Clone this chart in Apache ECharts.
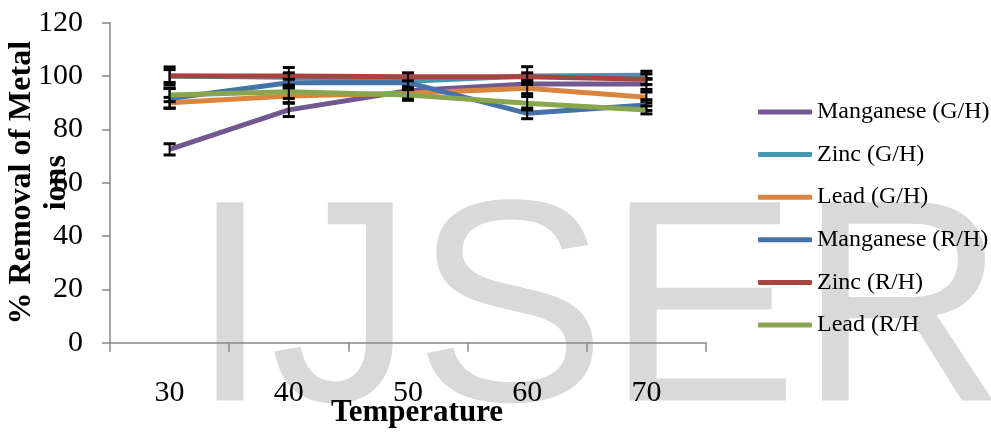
<!DOCTYPE html>
<html><head><meta charset="utf-8">
<script src="https://cdn.jsdelivr.net/npm/echarts@6/dist/echarts.min.js"></script>
<style>html,body{margin:0;padding:0;background:#fff}#c{width:991px;height:433px}</style>
</head><body><div id="c"></div>
<script>
const categories = ['30', '40', '50', '60', '70'];
const seriesNames = ['Manganese (G/H)', 'Zinc (G/H)', 'Lead (G/H)', 'Manganese (R/H)', 'Zinc (R/H)', 'Lead (R/H'];
const mnGH = [72.5, 87.3, 94.5, 97.0, 97.0];
const znGH = [100.0, 99.5, 98.0, 100.0, 100.3];
const pbGH = [90.0, 92.5, 93.5, 95.4, 92.0];
const mnRH = [91.6, 97.5, 97.5, 86.0, 89.1];
const znRH = [100.0, 100.0, 99.7, 99.7, 98.8];
const pbRH = [92.9, 94.1, 92.9, 89.8, 87.3];
const errMnGH = [2.1, 2.5, 2.0, 2.0, 2.0];
const errZnGH = [2.4, 3.7, 1.5, 3.5, 1.5];
const errPbGH = [2.0, 2.5, 2.0, 2.0, 2.0];
const errMnRH = [3.7, 1.5, 2.0, 2.0, 2.0];
const errZnRH = [3.4, 1.2, 1.5, 1.5, 2.0];
const errPbRH = [2.5, 2.5, 2.0, 2.5, 1.5];
const colors = ['#71588F', '#4198AF', '#DB843D', '#4572A7', '#A84440', '#89A54E'];

const values = [mnGH, znGH, pbGH, mnRH, znRH, pbRH];
const errors = [errMnGH, errZnGH, errPbGH, errMnRH, errZnRH, errPbRH];

const chart = echarts.init(document.getElementById('c'));
const series = [];
values.forEach((vals, i) => {
  series.push({
    name: seriesNames[i], type: 'line', data: vals, symbol: 'none',
    lineStyle: { width: 5, color: colors[i] }, itemStyle: { color: colors[i] },
    z: 2 + i * 2
  });
  series.push({
    name: 'err' + i, type: 'custom', z: 3 + i * 2,
    data: vals.map((v, k) => [k, v, errors[i][k]]),
    renderItem: function (params, api) {
      const x = api.value(0), v = api.value(1), e = api.value(2);
      const top = api.coord([x, v + e]);
      const bot = api.coord([x, v - e]);
      const hw = 6;
      return {
        type: 'group', children: [
          { type: 'line', shape: { x1: top[0], y1: top[1], x2: bot[0], y2: bot[1] }, style: { stroke: '#000', lineWidth: 2 } },
          { type: 'line', shape: { x1: top[0] - hw, y1: top[1], x2: top[0] + hw, y2: top[1] }, style: { stroke: '#000', lineWidth: 3 } },
          { type: 'line', shape: { x1: bot[0] - hw, y1: bot[1], x2: bot[0] + hw, y2: bot[1] }, style: { stroke: '#000', lineWidth: 3 } }
        ]
      };
    }
  });
});

chart.setOption({
  animation: false,
  backgroundColor: '#fff',
  graphic: [{
    type: 'text', left: 190, top: 177, z: -10, silent: true,
    style: { text: 'IJSER', font: '288px "Liberation Sans", Arial, sans-serif', fill: '#d9d9d9' }
  }],
  grid: { left: 110, right: 285, top: 22.7, bottom: 90.3, containLabel: false, outerBoundsMode: 'none' },
  legend: {
    data: seriesNames, orient: 'vertical', left: 758, top: 100, padding: 0,
    itemWidth: 54, itemHeight: 5, itemGap: 18.6, icon: 'roundRect',
    textStyle: { fontFamily: '"Liberation Serif", "Times New Roman", serif', fontSize: 24, color: '#000', lineHeight: 23 }
  },
  xAxis: {
    type: 'category', data: categories, boundaryGap: true,
    name: 'Temperature', nameLocation: 'middle', nameGap: 55, nameMoveOverlap: false,
    nameTextStyle: { fontFamily: '"Liberation Serif", "Times New Roman", serif', fontSize: 31, fontWeight: 'bold', color: '#000', padding: [0, 0, 0, 18] },
    axisLine: { lineStyle: { color: '#888', width: 1.5 } },
    axisTick: { show: true, length: 9, alignWithLabel: false, lineStyle: { color: '#888', width: 1.5 } },
    axisLabel: { margin: 35, fontFamily: '"Liberation Serif", "Times New Roman", serif', fontSize: 30, color: '#000' },
    splitLine: { show: false }
  },
  yAxis: {
    type: 'value', min: 0, max: 120, interval: 20,
    name: '% Removal of Metal\nions', nameLocation: 'middle', nameGap: 35.5, nameRotate: 90, nameMoveOverlap: false,
    nameTextStyle: { fontFamily: '"Liberation Serif", "Times New Roman", serif', fontSize: 32, fontWeight: 'bold', color: '#000', lineHeight: 35, align: 'center' },
    axisLine: { show: true, lineStyle: { color: '#888', width: 1.5 } },
    axisTick: { show: true, length: 8, lineStyle: { color: '#888', width: 1.5 } },
    axisLabel: { margin: 27, fontFamily: '"Liberation Serif", "Times New Roman", serif', fontSize: 30, color: '#000' },
    splitLine: { show: false }
  },
  series: series
});
</script></body></html>
